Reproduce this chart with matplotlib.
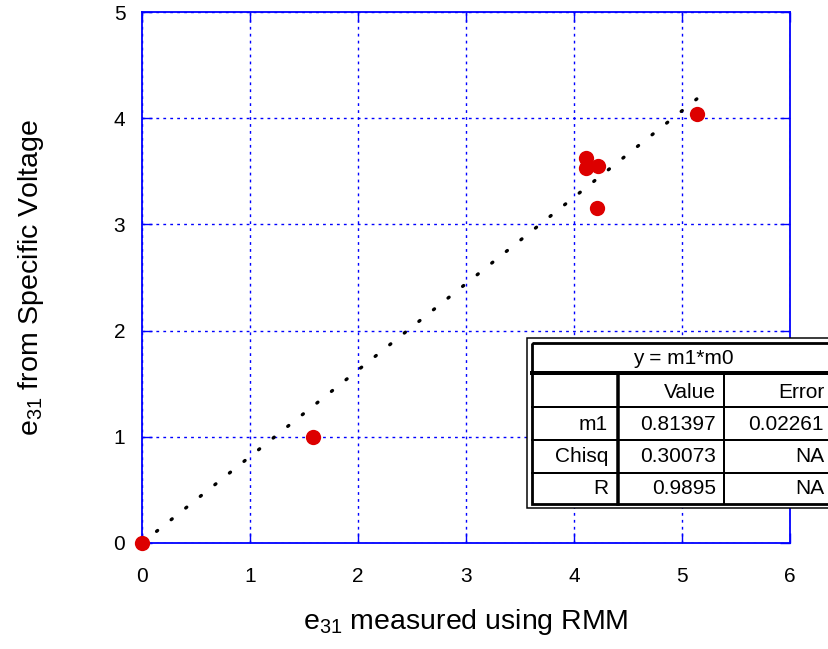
import numpy as np
import matplotlib
matplotlib.use('Agg')
import matplotlib.pyplot as plt
from matplotlib.patches import Rectangle

plt.rcParams['font.family'] = ['Liberation Sans', 'DejaVu Sans']
plt.rcParams['mathtext.fontset'] = 'custom'
plt.rcParams['mathtext.rm'] = 'Liberation Sans'
plt.rcParams['mathtext.it'] = 'Liberation Sans:italic'

# data
e31_rmm = [0.0, 1.58, 4.11, 4.11, 4.22, 4.21, 5.14]
e31_volt = [0.0, 1.00, 3.625, 3.53, 3.55, 3.155, 4.04]
m1 = 0.81397

# fit table
fit_title = 'y = m1*m0'
col_heads = ['', 'Value', 'Error']
row_names = ['m1', 'Chisq', 'R']
row_values = ['0.81397', '0.30073', '0.9895']
row_errors = ['0.02261', 'NA', 'NA']

W, H = 829, 649
fig = plt.figure(figsize=(W/100, H/100), dpi=100)
ax = fig.add_axes([142/W, 1-543/H, 648/W, 531/H])

# fit line
fx = np.array([0, max(e31_rmm)])
ax.plot(fx, m1*fx, color='black', lw=2.4, linestyle=(0, (0.4, 5.2)),
        dash_capstyle='round', zorder=3)
ax.plot(e31_rmm, e31_volt, 'o', color='#dd0000', ms=11, mec='none', zorder=4, clip_on=False)

ax.set_xlim(0, 6)
ax.set_ylim(0, 5)
ax.set_xticks(range(0, 7))
ax.set_yticks(range(0, 6))
ax.grid(True, color='blue', lw=1, linestyle=(0, (2, 3)))
for s in ax.spines.values():
    s.set_color('blue')
    s.set_linewidth(1.3)
ax.tick_params(direction='in', length=7, width=1, colors='blue', labelcolor='black',
               top=True, right=True, labelsize=15)
ax.tick_params(axis='x', pad=17)
ax.tick_params(axis='y', pad=12)

ax.set_xlabel('e$_{31}$ measured using RMM', fontsize=20.5)
ax.set_ylabel('e$_{31}$ from Specific Voltage', fontsize=20.5)
ax.xaxis.set_label_coords(0.5, -0.12)
ax.yaxis.set_label_coords(-0.148, 0.5)

# table drawn in pixel units
tw, th = 312, 170
tab = fig.add_axes([527/W, 1-508/H, tw/W, th/H])
tab.set_xlim(0, tw)
tab.set_ylim(th, 0)
tab.axis('off')
k = 0.72  # px -> pt
tab.add_patch(Rectangle((0, 0), tw, th, fc='white', ec='black', lw=1.5*k, clip_on=False))
tab.add_patch(Rectangle((4.5, 4.5), tw-9, th-9, fc='none', ec='black', lw=2.8*k, clip_on=False))
tab.plot([4.5, tw], [35, 35], color='black', lw=4*k)
for yy in [69, 102, 135]:
    tab.plot([4.5, tw], [yy, yy], color='black', lw=2*k)
tab.plot([91, 91], [35, th-4.5], color='black', lw=3.5*k)
tab.plot([197, 197], [35, th-4.5], color='black', lw=2*k)

fs = 15
tab.text(156, 21, fit_title, ha='center', va='center', fontsize=fs)
col_x = [81, 189, 297]
row_y = [54, 86, 118, 150]
for c, txt in enumerate(col_heads):
    tab.text(col_x[c], row_y[0], txt, ha='right', va='center', fontsize=fs)
for r in range(len(row_names)):
    for c, txt in enumerate([row_names[r], row_values[r], row_errors[r]]):
        tab.text(col_x[c], row_y[r+1], txt, ha='right', va='center', fontsize=fs)

fig.savefig('out.png', dpi=100)
